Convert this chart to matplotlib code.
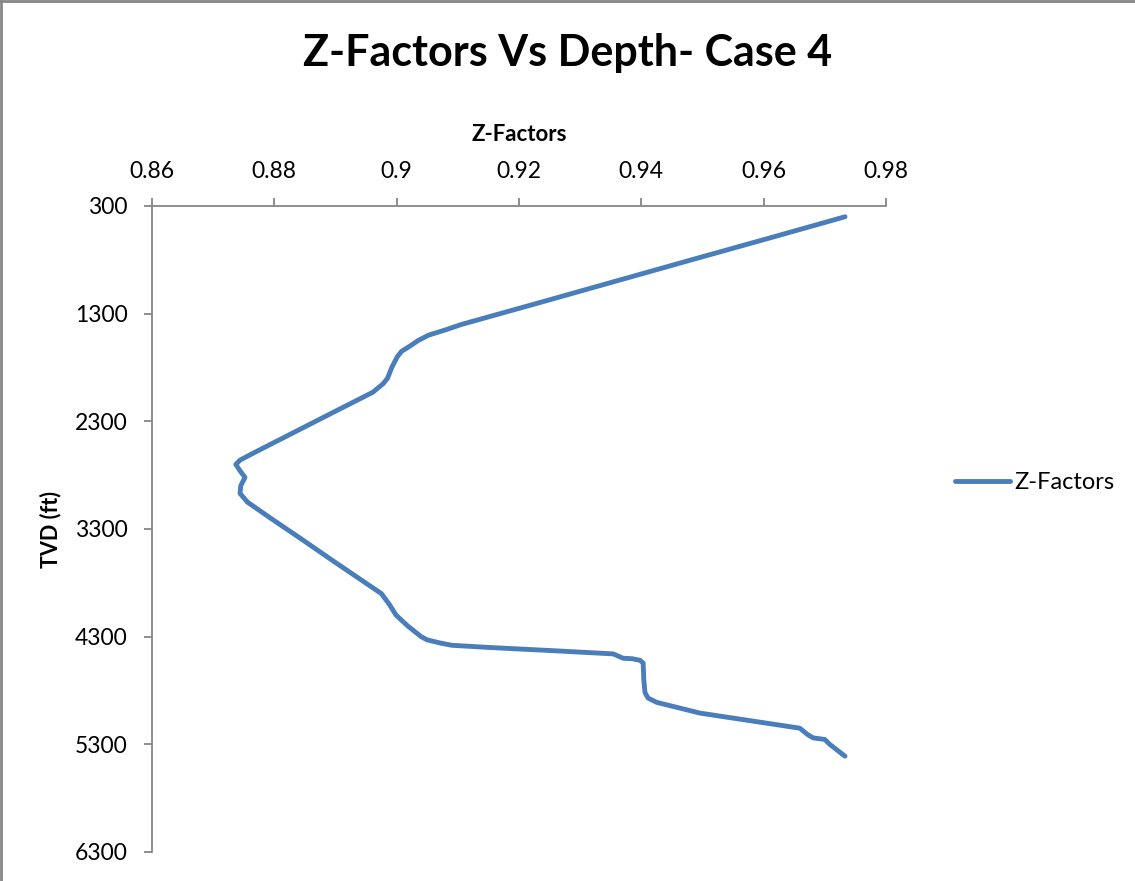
import matplotlib
matplotlib.use("Agg")
import matplotlib.pyplot as plt
from matplotlib.lines import Line2D

plt.rcParams['font.family'] = ['Lato', 'DejaVu Sans']

# Z-factor profile against true vertical depth
depth_ft = [400, 600, 800, 1000, 1200, 1400, 1450, 1500, 1550, 1600, 1650,
            1700, 1800, 1900, 1950, 2030, 2200, 2400, 2600, 2660, 2700, 2760,
            2820, 2900, 2970, 3050, 3200, 3400, 3600, 3800, 3900, 4000, 4100,
            4200, 4300, 4330, 4360, 4380, 4400, 4430, 4460, 4500, 4505, 4520,
            4545, 4700, 4820, 4870, 4910, 5010, 5150, 5210, 5240, 5255, 5300,
            5410]
z_factor = [0.9733, 0.9608, 0.9482, 0.9357, 0.9232, 0.9106, 0.9080, 0.9052,
            0.9035, 0.9022, 0.9008, 0.9001, 0.8992, 0.8985, 0.8978, 0.8961,
            0.8902, 0.8833, 0.8764, 0.8744, 0.8737, 0.8744, 0.8752, 0.8745,
            0.8744, 0.8756, 0.8794, 0.8846, 0.8897, 0.8949, 0.8975, 0.8988,
            0.8999, 0.9018, 0.9040, 0.9050, 0.9072, 0.9090, 0.9150, 0.9255,
            0.9354, 0.9370, 0.9385, 0.9398, 0.9403, 0.9404, 0.9406, 0.9411,
            0.9425, 0.9496, 0.9659, 0.9672, 0.9681, 0.9700, 0.9708, 0.9733]

x_ticks = [0.86, 0.88, 0.90, 0.92, 0.94, 0.96, 0.98]
x_tick_labels = ['0.86', '0.88', '0.9', '0.92', '0.94', '0.96', '0.98']
y_ticks = [300, 1300, 2300, 3300, 4300, 5300, 6300]

W, H = 1135, 881
fig = plt.figure(figsize=(W / 100, H / 100), dpi=100)
ax = fig.add_axes([152 / W, 1 - 852 / H, (886 - 152) / W, (852 - 206) / H])

line_color = '#4A7EBB'
axis_color = '#868686'

ax.plot(z_factor, depth_ft, color=line_color, lw=3.5, solid_capstyle='round',
        solid_joinstyle='round', label='Z-Factors')

ax.set_xlim(0.86, 0.98)
ax.set_ylim(6300, 300)
ax.xaxis.tick_top()
ax.xaxis.set_label_position('top')
ax.set_xticks(x_ticks)
ax.set_xticklabels(x_tick_labels)
ax.set_yticks(y_ticks)

for side in ('right', 'bottom'):
    ax.spines[side].set_visible(False)
for side in ('left', 'top'):
    ax.spines[side].set_color(axis_color)
    ax.spines[side].set_linewidth(1.3)

ax.tick_params(axis='both', direction='out', length=5.5, width=1.3,
               color=axis_color, labelsize=16.5, labelcolor='black')
ax.tick_params(axis='x', pad=12)
ax.tick_params(axis='y', pad=12)

ax.set_xlabel('Z-Factors', fontsize=16, fontweight='bold', labelpad=14)
ax.set_ylabel('TVD (ft)', fontsize=15.5, fontweight='bold', labelpad=10)

fig.suptitle('Z-Factors Vs Depth- Case 4', fontsize=31, fontweight='bold',
             x=0.5, y=1 - 53 / H, va='center')

fig.legend(loc='center left', bbox_to_anchor=(946 / W, 1 - 483 / H),
           frameon=False, fontsize=17, handlelength=2.3, handletextpad=0.2,
           borderaxespad=0)

# chart-area frame on the top and left edges
fig.add_artist(Line2D([0, 1], [1 - 1 / H, 1 - 1 / H], transform=fig.transFigure,
                      color=axis_color, lw=2))
fig.add_artist(Line2D([1 / W, 1 / W], [0, 1], transform=fig.transFigure,
                      color=axis_color, lw=2))

fig.savefig('out.png', dpi=100)
